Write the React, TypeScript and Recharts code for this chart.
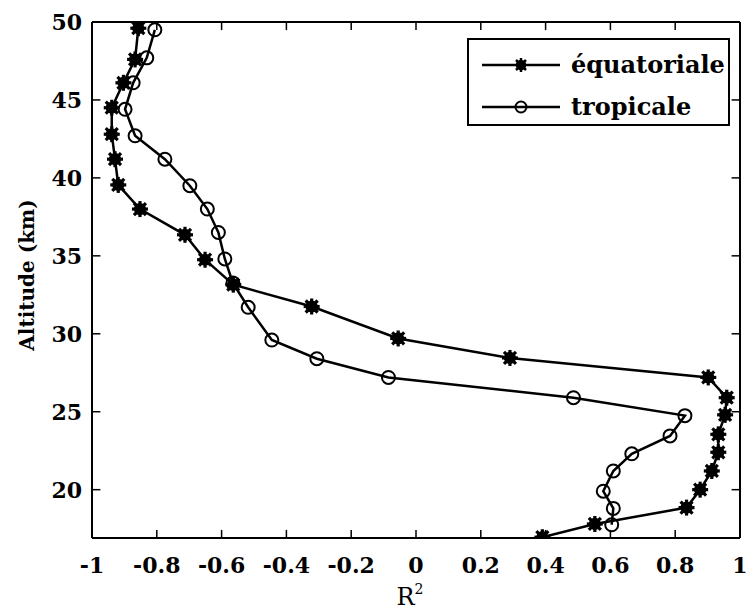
import React from 'react';
import { ScatterChart, Scatter, XAxis, YAxis, Legend, Label, ReferenceLine } from 'recharts';

// équatoriale profile (R², altitude km)
const eqR2 = [-0.857, -0.867, -0.903, -0.939, -0.939, -0.929, -0.919, -0.852, -0.713, -0.651, -0.564, -0.322, -0.055, 0.29, 0.902, 0.959, 0.954, 0.933, 0.933, 0.913, 0.877, 0.835, 0.552, 0.39];
const eqAlt = [49.6, 47.6, 46.1, 44.5, 42.8, 41.2, 39.55, 38.0, 36.35, 34.75, 33.15, 31.75, 29.7, 28.45, 27.2, 25.9, 24.8, 23.55, 22.4, 21.2, 20.0, 18.85, 17.8, 16.95];

// tropicale profile
const trR2 = [-0.806, -0.831, -0.873, -0.898, -0.867, -0.775, -0.698, -0.644, -0.61, -0.59, -0.565, -0.518, -0.445, -0.306, -0.085, 0.486, 0.83, 0.784, 0.666, 0.609, 0.578, 0.609, 0.604];
const trAlt = [49.5, 47.7, 46.1, 44.4, 42.7, 41.2, 39.5, 38.0, 36.5, 34.8, 33.25, 31.7, 29.6, 28.4, 27.2, 25.9, 24.75, 23.45, 22.3, 21.2, 19.9, 18.8, 17.75];

const xTicks = [-1, -0.8, -0.6, -0.4, -0.2, 0, 0.2, 0.4, 0.6, 0.8, 1];
const yTicks = [20, 25, 30, 35, 40, 45, 50];
const seriesNames = ['équatoriale', 'tropicale'];

const X_DOMAIN = [-1, 1];
const Y_DOMAIN = [16.9, 50];

const eqData = eqR2.map((x, i) => ({ x, y: eqAlt[i] }));
const trData = trR2.map((x, i) => ({ x, y: trAlt[i] }));

// inward tick lengths expressed in data units (≈8 px)
const X_TICK_LEN_DATA = 0.026;
const Y_TICK_LEN_DATA = 0.52;
const innerX = xTicks.filter((v) => v > X_DOMAIN[0] && v < X_DOMAIN[1]);
const innerY = yTicks.filter((v) => v > Y_DOMAIN[0] && v < Y_DOMAIN[1]);

const FONT = 'DejaVu Serif';

const BottomTick = (p: any) => {
  const { x, y, payload } = p;
  return (
    <text x={x} y={y + 16} textAnchor="middle" fontFamily={FONT} fontWeight={700} fontSize={22} fill="#000">
      {String(payload.value)}
    </text>
  );
};

const LeftTick = (p: any) => {
  const { x, y, payload } = p;
  return (
    <text x={x} y={y} dy={8} textAnchor="end" fontFamily={FONT} fontWeight={700} fontSize={22} fill="#000">
      {String(payload.value)}
    </text>
  );
};

const StarMark = (p: any) => {
  const { cx, cy } = p;
  const s = 8;
  const d = 6;
  return (
    <g stroke="#000" strokeWidth={3.2}>
      <line x1={cx - s} y1={cy} x2={cx + s} y2={cy} />
      <line x1={cx} y1={cy - s} x2={cx} y2={cy + s} />
      <line x1={cx - d} y1={cy - d} x2={cx + d} y2={cy + d} />
      <line x1={cx - d} y1={cy + d} x2={cx + d} y2={cy - d} />
      <circle cx={cx} cy={cy} r={4.5} fill="#000" />
    </g>
  );
};

const CircleMark = (p: any) => {
  const { cx, cy } = p;
  return <circle cx={cx} cy={cy} r={6.5} fill="none" stroke="#000" strokeWidth={2} />;
};

const XTitle = (props: any) => {
  const vb = props.viewBox || {};
  const cx = vb.x + vb.width / 2;
  return (
    <text x={cx - 6} y={605} textAnchor="middle" fontFamily={FONT} fontSize={24} fill="#000">
      R<tspan fontSize={14} dy={-11}>2</tspan>
    </text>
  );
};

const YTitle = (props: any) => {
  const vb = props.viewBox || {};
  const cy = vb.y + vb.height / 2 - 5;
  const cx = 27;
  return (
    <text
      x={cx}
      y={cy}
      transform={`rotate(-90 ${cx} ${cy})`}
      textAnchor="middle"
      dominantBaseline="central"
      fontFamily={FONT}
      fontWeight={700}
      fontSize={20}
      fill="#000"
    >
      Altitude (km)
    </text>
  );
};

const LegendBox = () => (
  <div
    style={{
      width: 263,
      height: 88,
      boxSizing: 'border-box',
      border: '2px solid #000',
      background: '#fff',
      position: 'relative',
      fontFamily: FONT,
      fontWeight: 700,
      fontSize: 24,
      color: '#000',
    }}
  >
    {seriesNames.map((name, i) => (
      <div key={name} style={{ position: 'absolute', left: 0, top: i === 0 ? 8 : 50, height: 34, width: 260 }}>
        <svg width={100} height={34} style={{ position: 'absolute', left: 13, top: 0 }}>
          <line x1={0} y1={17} x2={78} y2={17} stroke="#000" strokeWidth={2.5} />
          {i === 0 ? (
            <g stroke="#000" strokeWidth={2.5}>
              <line x1={39} y1={10} x2={39} y2={24} />
              <line x1={34} y1={12} x2={44} y2={22} />
              <line x1={34} y1={22} x2={44} y2={12} />
              <circle cx={39} cy={17} r={4} fill="#000" />
            </g>
          ) : (
            <circle cx={39} cy={17} r={5.5} fill="none" stroke="#000" strokeWidth={2} />
          )}
        </svg>
        <span style={{ position: 'absolute', left: 102, top: 0, lineHeight: '34px', whiteSpace: 'nowrap' }}>{name}</span>
      </div>
    ))}
  </div>
);

export default function App() {
  return (
    <div style={{ position: 'absolute', left: 0, top: 0, background: '#fff' }}>
      <ScatterChart width={747} height={616} margin={{ top: 22, right: 7, bottom: 0, left: 0 }}>
        <XAxis
          dataKey="x"
          type="number"
          domain={X_DOMAIN}
          ticks={xTicks}
          interval={0}
          allowDataOverflow
          height={78}
          tickSize={0}
          tickMargin={19}
          axisLine={{ stroke: '#000', strokeWidth: 2 }}
          tickLine={false}
          tick={BottomTick}
        >
          <Label content={XTitle} />
        </XAxis>
        <YAxis
          dataKey="y"
          type="number"
          domain={Y_DOMAIN}
          ticks={yTicks}
          interval={0}
          allowDataOverflow
          width={92}
          tickSize={0}
          tickMargin={10}
          axisLine={{ stroke: '#000', strokeWidth: 2 }}
          tickLine={false}
          tick={LeftTick}
        >
          <Label content={YTitle} />
        </YAxis>

        {/* frame: top and right */}
        <ReferenceLine y={Y_DOMAIN[1]} stroke="#000" strokeWidth={2} ifOverflow="visible" />
        <ReferenceLine x={X_DOMAIN[1]} stroke="#000" strokeWidth={2} ifOverflow="visible" />

        {/* inward ticks, bottom and top */}
        {innerX.map((v) => (
          <ReferenceLine
            key={`xb${v}`}
            segment={[{ x: v, y: Y_DOMAIN[0] }, { x: v, y: Y_DOMAIN[0] + Y_TICK_LEN_DATA }]}
            stroke="#000"
            strokeWidth={1.5}
            ifOverflow="visible"
          />
        ))}
        {innerX.map((v) => (
          <ReferenceLine
            key={`xt${v}`}
            segment={[{ x: v, y: Y_DOMAIN[1] }, { x: v, y: Y_DOMAIN[1] - Y_TICK_LEN_DATA }]}
            stroke="#000"
            strokeWidth={1.5}
            ifOverflow="visible"
          />
        ))}
        {/* inward ticks, left and right */}
        {innerY.map((v) => (
          <ReferenceLine
            key={`yl${v}`}
            segment={[{ x: X_DOMAIN[0], y: v }, { x: X_DOMAIN[0] + X_TICK_LEN_DATA, y: v }]}
            stroke="#000"
            strokeWidth={1.5}
            ifOverflow="visible"
          />
        ))}
        {innerY.map((v) => (
          <ReferenceLine
            key={`yr${v}`}
            segment={[{ x: X_DOMAIN[1], y: v }, { x: X_DOMAIN[1] - X_TICK_LEN_DATA, y: v }]}
            stroke="#000"
            strokeWidth={1.5}
            ifOverflow="visible"
          />
        ))}

        <Legend
          layout="horizontal"
          verticalAlign="middle"
          align="center"
          content={() => <LegendBox />}
          wrapperStyle={{ position: 'absolute', left: 467, top: 38, width: 263, height: 88, margin: 0 }}
        />
        <Scatter
          name={seriesNames[0]}
          data={eqData}
          line={{ stroke: '#000', strokeWidth: 2.5 }}
          shape={StarMark}
          isAnimationActive={false}
        />
        <Scatter
          name={seriesNames[1]}
          data={trData}
          line={{ stroke: '#000', strokeWidth: 2.5 }}
          shape={CircleMark}
          isAnimationActive={false}
        />
      </ScatterChart>
    </div>
  );
}
